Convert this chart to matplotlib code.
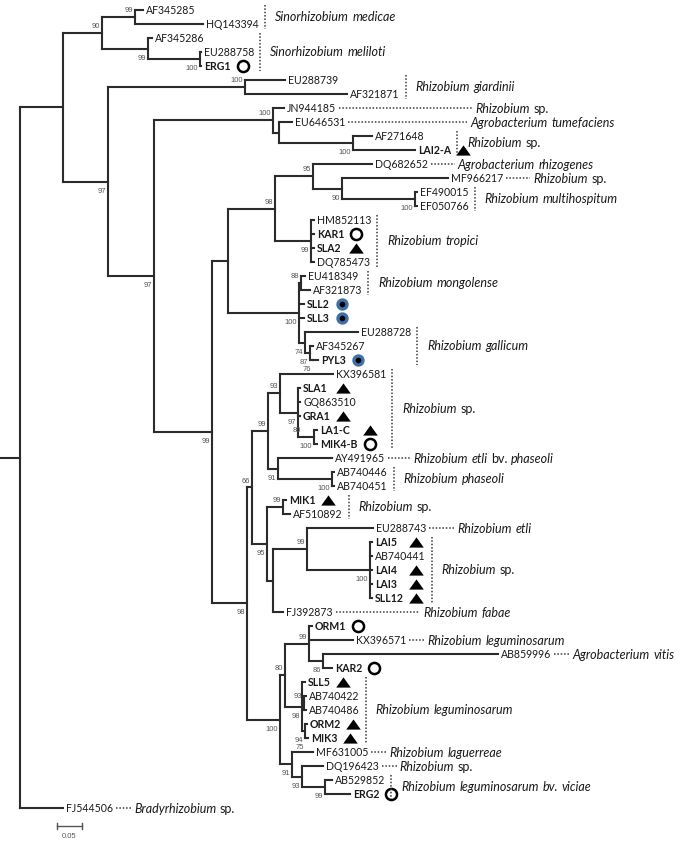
import matplotlib
matplotlib.use("Agg")
import matplotlib.pyplot as plt
from matplotlib.collections import LineCollection

# internal nodes: (name, parent, branch length, bootstrap)
clades = [
    ("root", None, 0.0, None),
    ("A", "root", 0.086, None),
    ("sino", "A", 0.078, 90),
    ("med", "sino", 0.066, 99),
    ("mel", "sino", 0.092, 99),
    ("erg", "mel", 0.104, 100),
    ("B", "A", 0.090, 97),
    ("gia", "B", 0.274, 100),
    ("C", "B", 0.092, 97),
    ("D", "C", 0.238, 100),
    ("D2", "D", 0.012, None),
    ("lai2", "D2", 0.148, 100),
    ("F", "C", 0.116, 99),
    ("G", "F", 0.032, None),
    ("H", "G", 0.094, 98),
    ("J", "H", 0.076, 95),
    ("K", "J", 0.058, 90),
    ("ef", "K", 0.146, 100),
    ("trop", "H", 0.072, 99),
    ("I", "G", 0.142, 100),
    ("mong", "I", 0.004, 88),
    ("gal", "I", 0.012, 74),
    ("gal2", "gal", 0.010, 87),
    ("gal3", "gal2", 0.006, 76),
    ("T", "F", 0.070, 98),
    ("N66", "T", 0.010, 66),
    ("U", "N66", 0.032, 99),
    ("V", "U", 0.024, 93),
    ("X", "V", 0.036, 97),
    ("Y", "X", 0.010, 80),
    ("Z", "Y", 0.022, 100),
    ("W", "U", 0.020, 91),
    ("ph", "W", 0.108, 100),
    ("N95", "N66", 0.030, 95),
    ("mik1", "N95", 0.032, 99),
    ("N2", "N95", 0.012, None),
    ("E99", "N2", 0.068, 99),
    ("lai", "E99", 0.126, 100),
    ("L100", "T", 0.066, 100),
    ("L80", "L100", 0.010, 80),
    ("O99", "L80", 0.048, 99),
    ("O86", "O99", 0.028, 86),
    ("S1", "L80", 0.034, 98),
    ("S2", "S1", 0.004, 93),
    ("S3", "S1", 0.006, 94),
    ("S4", "S3", 0.002, 75),
    ("L91", "L100", 0.024, 91),
    ("L93", "L91", 0.020, 93),
    ("L99", "L93", 0.046, 99),
]

# leaves in top-to-bottom order: (name, parent, branch length)
leaves = [
    ("AF345285", "med", 0.016), ("HQ143394", "med", 0.136),
    ("AF345286", "mel", 0.008), ("EU288758", "erg", 0.002), ("ERG1", "erg", 0.002),
    ("EU288739", "gia", 0.080), ("AF321871", "gia", 0.204),
    ("JN944185", "D", 0.022), ("EU646531", "D2", 0.026),
    ("AF271648", "lai2", 0.038), ("LAI2-A", "lai2", 0.124),
    ("DQ682652", "J", 0.118), ("MF966217", "K", 0.212),
    ("EF490015", "ef", 0.004), ("EF050766", "ef", 0.004),
    ("HM852113", "trop", 0.006), ("KAR1", "trop", 0.006),
    ("SLA2", "trop", 0.006), ("DQ785473", "trop", 0.006),
    ("EU418349", "mong", 0.008), ("AF321873", "mong", 0.018),
    ("SLL2", "I", 0.010), ("SLL3", "I", 0.010),
    ("EU288728", "gal", 0.106), ("AF345267", "gal2", 0.006), ("PYL3", "gal3", 0.010),
    ("KX396581", "V", 0.106), ("SLA1", "X", 0.004), ("GQ863510", "X", 0.004),
    ("GRA1", "X", 0.004), ("LA1-C", "Z", 0.006), ("MIK4-B", "Z", 0.006),
    ("AY491965", "W", 0.108), ("AB740446", "ph", 0.004), ("AB740451", "ph", 0.004),
    ("MIK1", "mik1", 0.006), ("AF510892", "mik1", 0.014),
    ("EU288743", "E99", 0.132),
    ("LAI5", "lai", 0.004), ("AB740441", "lai", 0.004), ("LAI4", "lai", 0.004),
    ("LAI3", "lai", 0.004), ("SLL12", "lai", 0.004),
    ("FJ392873", "N2", 0.020),
    ("ORM1", "O99", 0.006), ("KX396571", "O99", 0.088),
    ("AB859996", "O86", 0.350), ("KAR2", "O86", 0.018),
    ("SLL5", "S1", 0.006), ("AB740422", "S2", 0.004), ("AB740486", "S2", 0.004),
    ("ORM2", "S3", 0.004), ("MIK3", "S4", 0.004),
    ("MF631005", "L91", 0.042), ("DQ196423", "L93", 0.042),
    ("AB529852", "L99", 0.014), ("ERG2", "L99", 0.050),
    ("FJ544506", "root", 0.086),
]

open_circle = ["ERG1", "KAR1", "MIK4-B", "ORM1", "KAR2", "ERG2"]
triangle = ["LAI2-A", "SLA2", "SLA1", "GRA1", "LA1-C", "MIK1", "LAI5", "LAI4",
            "LAI3", "SLL12", "SLL5", "ORM2", "MIK3"]
blue_dot = ["SLL2", "SLL3", "PYL3"]

# species groups: (first leaf, last leaf, name)
species = [
    ("AF345285", "HQ143394", "Sinorhizobium medicae"),
    ("AF345286", "ERG1", "Sinorhizobium meliloti"),
    ("EU288739", "AF321871", "Rhizobium giardinii"),
    ("JN944185", "JN944185", "Rhizobium sp."),
    ("EU646531", "EU646531", "Agrobacterium tumefaciens"),
    ("AF271648", "LAI2-A", "Rhizobium sp."),
    ("DQ682652", "DQ682652", "Agrobacterium rhizogenes"),
    ("MF966217", "MF966217", "Rhizobium sp."),
    ("EF490015", "EF050766", "Rhizobium multihospitum"),
    ("HM852113", "DQ785473", "Rhizobium tropici"),
    ("EU418349", "AF321873", "Rhizobium mongolense"),
    ("EU288728", "PYL3", "Rhizobium gallicum"),
    ("KX396581", "MIK4-B", "Rhizobium sp."),
    ("AY491965", "AY491965", "Rhizobium etli bv. phaseoli"),
    ("AB740446", "AB740451", "Rhizobium phaseoli"),
    ("MIK1", "AF510892", "Rhizobium sp."),
    ("EU288743", "EU288743", "Rhizobium etli"),
    ("LAI5", "SLL12", "Rhizobium sp."),
    ("FJ392873", "FJ392873", "Rhizobium fabae"),
    ("KX396571", "KX396571", "Rhizobium leguminosarum"),
    ("AB859996", "AB859996", "Agrobacterium vitis"),
    ("SLL5", "MIK3", "Rhizobium leguminosarum"),
    ("MF631005", "MF631005", "Rhizobium laguerreae"),
    ("DQ196423", "DQ196423", "Rhizobium sp."),
    ("AB529852", "ERG2", "Rhizobium leguminosarum bv. viciae"),
    ("FJ544506", "FJ544506", "Bradyrhizobium sp."),
]

scale_len = 0.05

# ---------------- layout ----------------
PX = 500.0  # pixels per substitution unit
W, H = 685, 843
LEAF_TOP, LEAF_STEP = 10.0, 14.0
# dotted leader length (px) between accession and species name
leader_gap = {"JN944185": 139, "EU646531": 125, "DQ682652": 30, "MF966217": 30,
              "AY491965": 28, "EU288743": 31, "FJ392873": 91}

parent, blen, support = {}, {}, {}
for name, par, bl, bs in clades:
    parent[name], blen[name], support[name] = par, bl, bs
leaf_names = [l[0] for l in leaves]
for name, par, bl in leaves:
    parent[name], blen[name] = par, bl
children = {}
for n, p in parent.items():
    if p is not None:
        children.setdefault(p, []).append(n)

xpos = {}
def get_x(n):
    if n not in xpos:
        p = parent[n]
        xpos[n] = 0.0 if p is None else get_x(p) + blen[n]
    return xpos[n]
for n in parent:
    get_x(n)

ypos = {n: i for i, n in enumerate(leaf_names)}
def get_y(n):
    if n not in ypos:
        ys = sorted(get_y(c) for c in children[n])
        ypos[n] = (ys[0] + ys[-1]) / 2
    return ypos[n]
get_y("root")

fig = plt.figure(figsize=(W / 100, H / 100), dpi=100)
ax = fig.add_axes([0, 0, 1, 1])
ax.axis("off")
x0 = -20 / PX
ax.set_xlim(x0, x0 + W / PX)
ax.set_ylim((H - LEAF_TOP) / LEAF_STEP, -LEAF_TOP / LEAF_STEP)

lc = "#2b2b2b"
segs = []
for n, p in parent.items():
    if p is not None:
        segs.append([(xpos[p], ypos[n]), (xpos[n], ypos[n])])
for n, ch in children.items():
    ys = [ypos[c] for c in ch]
    if len(ch) > 1:
        segs.append([(xpos[n], min(ys)), (xpos[n], max(ys))])
segs.append([(x0, ypos["root"]), (0, ypos["root"])])
ax.add_collection(LineCollection(segs, colors=lc, linewidths=1.5, capstyle="projecting"))

# bootstrap values
for n, bs in support.items():
    if bs is None:
        continue
    sib = sorted(children[parent[n]], key=lambda c: ypos[c])
    below = len(sib) == 1 or sib[-1] == n
    # a single-child node whose child is a clade keeps its value above
    ch = children.get(n, [])
    if len(ch) == 1 and ch[0] in children:
        below = False
    dy = 0.68 if below else -0.45
    ax.text(xpos[n] - 2 / PX, ypos[n] + dy, str(bs), ha="right", va="center",
            fontsize=5.5, color="#555555", family="Liberation Sans")

isolates = set(open_circle) | set(triangle) | set(blue_dot)
ltext = {}
for n in leaf_names:
    ltext[n] = ax.text(xpos[n] + 3 / PX, ypos[n] + 0.05, n, fontsize=7.6, family="Lato",
                       weight="bold" if n in isolates else "normal",
                       va="center", ha="left", color="#1a1a1a")

fig.canvas.draw()
rend = fig.canvas.get_renderer()
inv = ax.transData.inverted()
def right_end(t):
    bb = t.get_window_extent(rend)
    return inv.transform((bb.x1, bb.y0))[0]
tend = {n: right_end(ltext[n]) for n in leaf_names}

# isolate markers, aligned within a clade
mark_x = {}
for n in isolates:
    grp = [m for m in isolates if parent[m] == parent[n]]
    mark_x[n] = max(tend[m] for m in grp) + 12 / PX
tri = [(-1, -0.7), (1, -0.7), (0, 0.7)]
for n in triangle:
    ax.plot(mark_x[n], ypos[n], marker=tri, ms=10.5, color="black", mew=0)
for n in open_circle:
    ax.plot(mark_x[n], ypos[n], marker="o", ms=8, mfc="none", mec="black", mew=1.8)
for n in blue_dot:
    ax.plot(mark_x[n], ypos[n], marker="o", ms=6.5, mfc="black", mec="#3f70a8", mew=2.4)

# species names
dot_style = dict(color="#3a3a3a", lw=1.1, linestyle=(0, (1, 1.2)))
def species_text(x, y, name):
    t = None
    for word in name.split(" "):
        upright = word == "sp." or (word == "bv." and "etli" in name)
        style = "normal" if upright else "italic"
        if t is None:
            t = ax.text(x, y, word, fontsize=9, family="Lato", style=style,
                        va="center", ha="left", color="#1a1a1a")
        else:
            t = ax.annotate(word, xy=(1, 0), xycoords=t, xytext=(2.6, 0),
                            textcoords="offset points", va="bottom", ha="left",
                            fontsize=9, family="Lato", style=style, color="#1a1a1a")

for first, last, name in species:
    i0, i1 = ypos[first], ypos[last]
    grp = leaf_names[i0:i1 + 1]
    e = max(tend[n] for n in grp)
    if i0 == i1:
        gap = leader_gap.get(first, 21) / PX
        ax.plot([e + 3 / PX, e + gap - 3 / PX], [i0, i0], **dot_style)
        species_text(e + gap, i0 + 0.05, name)
    else:
        bx = e + 6 / PX
        ax.plot([bx, bx], [i0 - 0.38, i1 + 0.38], **dot_style)
        species_text(bx + 10 / PX, (i0 + i1) / 2, name)

# scale bar
sx, sy = 37 / PX, 58.3
ax.plot([sx, sx + scale_len], [sy, sy], color="#555555", lw=1)
for xx in (sx, sx + scale_len):
    ax.plot([xx, xx], [sy - 0.2, sy + 0.2], color="#555555", lw=1)
ax.text(sx + scale_len / 2, sy + 0.75, "0.05", ha="center", va="center",
        fontsize=5.5, color="#555555", family="Liberation Sans")

fig.savefig("out.png", dpi=100)
